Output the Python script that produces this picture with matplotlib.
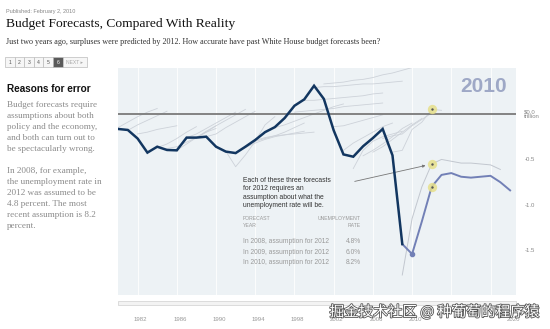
import numpy as np
import matplotlib
matplotlib.use('Agg')
import matplotlib.pyplot as plt
from matplotlib.patches import Rectangle
from matplotlib.transforms import ScaledTranslation
import matplotlib.patheffects as pe

# actual deficit / surplus, trillions (inflation adjusted)
actual_years = list(range(1980, 2010))
actual_values = [-0.165, -0.176, -0.27, -0.425, -0.36, -0.396, -0.40, -0.26, -0.26, -0.25,
                 -0.36, -0.414, -0.43, -0.36, -0.286, -0.20, -0.145, -0.045, 0.09, 0.16,
                 0.31, 0.165, -0.18, -0.445, -0.47, -0.355, -0.265, -0.165, -0.455, -1.43]

# 2010 forecast (highlighted)
fc2010_years = list(range(2009, 2021))
fc2010_values = [-1.43, -1.54, -1.18, -0.80, -0.67, -0.65, -0.69, -0.70, -0.69, -0.68, -0.75, -0.84]

# 2009 forecast
fc2009_years = list(range(2009, 2020))
fc2009_values = [-1.77, -1.15, -0.80, -0.55, -0.50, -0.52, -0.54, -0.54, -0.55, -0.56, -0.61]

# older forecasts, first year + yearly values
old_starts = [1980, 1981, 1982, 1984, 1985, 1986, 1987, 1988, 1989, 1991, 1992, 1993, 1994,
              1996, 1998, 1999, 2000, 2001, 2002, 2003, 2004, 2005, 2006, 2007, 2008]
old_values = [
    [-0.15, -0.09, -0.03, 0.02, 0.06],
    [-0.18, -0.12, -0.07, -0.02, 0.03],
    [-0.22, -0.20, -0.17, -0.15, -0.13],
    [-0.37, -0.33, -0.27, -0.20, -0.14],
    [-0.38, -0.36, -0.31, -0.26, -0.20, -0.16],
    [-0.40, -0.33, -0.26, -0.19, -0.13],
    [-0.26, -0.22, -0.16, -0.10, -0.04, 0.02],
    [-0.26, -0.20, -0.13, -0.07, -0.01, 0.05],
    [-0.25, -0.22, -0.15, -0.09, -0.03, 0.03],
    [-0.41, -0.58, -0.45, -0.30, -0.12, -0.03],
    [-0.43, -0.37, -0.32, -0.28, -0.25, -0.23, -0.21, -0.19],
    [-0.36, -0.30, -0.27, -0.24, -0.20, -0.15, -0.10],
    [-0.29, -0.26, -0.24, -0.23, -0.22, -0.21, -0.20],
    [-0.15, -0.12, -0.08, -0.04, 0.00, 0.04, 0.08, 0.11],
    [0.02, 0.03, 0.04, 0.05, 0.06, 0.08, 0.09, 0.10, 0.11, 0.12],
    [0.15, 0.15, 0.16, 0.17, 0.18, 0.19, 0.20, 0.22, 0.23],
    [0.29, 0.30, 0.30, 0.31, 0.32, 0.33, 0.33, 0.34, 0.35, 0.36],
    [0.33, 0.34, 0.35, 0.37, 0.38, 0.40, 0.43, 0.45, 0.48, 0.51],
    [-0.14, -0.13, -0.10, -0.07, -0.04, -0.01],
    [-0.40, -0.32, -0.26, -0.20, -0.14, -0.10],
    [-0.60, -0.40, -0.30, -0.25, -0.22, -0.19],
    [-0.46, -0.40, -0.33, -0.25, -0.16, -0.10],
    [-0.42, -0.36, -0.28, -0.20, -0.12, -0.05],
    [-0.27, -0.24, -0.22, -0.13, -0.06, 0.01],
    [-0.42, -0.40, -0.17, -0.09, 0.05, 0.04],
]

# 2012 points of the three forecasts (2008, 2009, 2010)
mark_year = 2012
mark_values = [0.05, -0.55, -0.80]

ytick_vals = [0.0, -0.5, -1.0, -1.5]
ytick_labels = ['$0.0\ntrillion', '-0.5', '-1.0', '-1.5']
xtick_years = [1982, 1986, 1990, 1994, 1998, 2002, 2006, 2010, 2020]

table_rows = ['In 2008, assumption for 2012', 'In 2009, assumption for 2012', 'In 2010, assumption for 2012']
unemployment = ['4.8%', '6.0%', '8.2%']

side_text = ['Budget forecasts require', 'assumptions about both', 'policy and the economy,',
             'and both can turn out to', 'be spectacularly wrong.', '',
             'In 2008, for example,', 'the unemployment rate in', '2012 was assumed to be',
             '4.8 percent. The most', 'recent assumption is 8.2', 'percent.']

W, H = 550, 329
fig = plt.figure(figsize=(5.5, 3.29), dpi=100)
fig.patch.set_facecolor('white')

def fx(x):
    return x / W

def fy(y):
    return 1 - y / H

sans = ['Liberation Sans', 'DejaVu Sans']
serif = ['Liberation Serif']

# header
fig.text(fx(6), fy(11), 'Published: February 2, 2010', fontsize=4.0, color='#888888', family=sans, va='center')
fig.text(fx(6), fy(24), 'Budget Forecasts, Compared With Reality', fontsize=9.7, color='#111111',
         family=serif, va='center')
fig.text(fx(6), fy(42), 'Just two years ago, surpluses were predicted by 2012. How accurate have past White House budget forecasts been?',
         fontsize=5.85, color='#333333', family=serif, va='center')

# page buttons
bx = 5
for i, lab in enumerate(['1', '2', '3', '4', '5', '6', 'NEXT \u25b8']):
    w = 9.6 if i < 6 else 24
    dark = lab == '6'
    fig.add_artist(Rectangle((fx(bx), fy(67)), w / W, 10 / H, transform=fig.transFigure,
                             facecolor='#5a5a5a' if dark else '#f6f6f6', edgecolor='#bbbbbb', lw=0.5))
    fig.text(fx(bx + w / 2), fy(62), lab, fontsize=3.6, ha='center', va='center', family=sans,
             color='white' if dark else ('#aaaaaa' if i == 6 else '#555555'))
    bx += w

# side panel
fig.text(fx(7), fy(89), 'Reasons for error', fontsize=7.2, fontweight='bold', color='#111111', family=sans, va='center')
for i, line in enumerate(side_text):
    fig.text(fx(7), fy(105 + 11 * i), line, fontsize=6.6, color='#8a8a8a', family=serif, va='center')

# chart
ax = fig.add_axes([fx(118), fy(295), (516 - 118) / W, (295 - 68) / H])
ax.set_facecolor('#edf2f5')
ax.set_xlim(1980, 2020.6)
ax.set_ylim(-1.99, 0.505)
for yr in range(1982, 2021, 4):
    ax.axvline(yr, color='white', lw=0.8, alpha=0.8, zorder=0)

for start, vals in zip(old_starts, old_values):
    ax.plot(range(start, start + len(vals)), vals, color='#cdd2d9', lw=0.6, zorder=1)
ax.plot(fc2009_years, fc2009_values, color='#c2c7cf', lw=0.7, zorder=1)

ax.axhline(0, color='#7a7a7a', lw=1.3, zorder=2)
ax.plot(actual_years, actual_values, color='#123660', lw=1.8, zorder=4, solid_joinstyle='miter')
ax.plot(fc2010_years, fc2010_values, color='#7280b6', lw=1.4, zorder=3)
ax.plot(fc2010_years[1], fc2010_values[1], 'o', ms=3, color='#7280b6', zorder=3)

ax.scatter([mark_year] * 3, mark_values, s=45, color='#e6e08a', alpha=0.85, zorder=5, lw=0)
ax.scatter([mark_year] * 3, mark_values, s=3, color='#555555', zorder=6, lw=0)

ax.text(0.978, 0.92, '2010', transform=ax.transAxes, ha='right', va='center', fontsize=15,
        fontweight='bold', color='#9ea8c6', family=sans)

# annotation
ax.text(fx(243), fy(177), 'Each of these three forecasts\nfor 2012 requires an\nassumption about what the\nunemployment rate will be.',
        transform=fig.transFigure, fontsize=4.9, color='#333333', family=sans, va='top', linespacing=1.25)
ax.annotate('', xy=(mark_year - 0.35, mark_values[1] - 0.01), xytext=(fx(352), fy(182)),
            textcoords='figure fraction',
            arrowprops=dict(arrowstyle='-|>', color='#777777', lw=0.6, mutation_scale=4))
ax.text(fx(243), fy(222), 'FORECAST\nYEAR', transform=fig.transFigure, fontsize=3.7, color='#999999',
        family=sans, va='center', linespacing=1.3)
ax.text(fx(361), fy(222), 'UNEMPLOYMENT\nRATE', transform=fig.transFigure, fontsize=3.7, color='#999999',
        family=sans, va='center', ha='right', multialignment='right', linespacing=1.3)
for i, (row, rate) in enumerate(zip(table_rows, unemployment)):
    ax.text(fx(243), fy(241.5 + 10.7 * i), row, transform=fig.transFigure, fontsize=4.8, color='#9a9a9a',
            family=sans, va='center')
    ax.text(fx(361), fy(241.5 + 10.7 * i), rate, transform=fig.transFigure, fontsize=4.8, color='#9a9a9a',
            family=sans, va='center', ha='right')

# axes styling
for s in ax.spines.values():
    s.set_visible(False)
ax.yaxis.tick_right()
ax.set_yticks(ytick_vals)
ax.set_yticklabels(ytick_labels, fontsize=4.3, color='#888888', family=sans, linespacing=1.0)
ax.tick_params(axis='y', length=0, pad=6)
ax.set_xticks(xtick_years)
ax.set_xticklabels([str(y) for y in xtick_years], fontsize=4.3, color='#999999', family=sans)
ax.tick_params(axis='x', length=0, pad=15.5)
off = ScaledTranslation(3 / 100, 0, fig.dpi_scale_trans)
for lab in ax.get_xticklabels():
    lab.set_transform(lab.get_transform() + off)

# scroll bar
fig.add_artist(Rectangle((fx(118), fy(305)), (516 - 118) / W, 4 / H, transform=fig.transFigure,
                         facecolor='#f3f3f3', edgecolor='#d0d0d0', lw=0.5))

# watermark
fig.text(fx(540), fy(312), '掘金技术社区 @ 种葡萄的程序猿', fontsize=10.5, color='white', ha='right', va='center',
         family=['Noto Sans CJK SC', 'DejaVu Sans'],
         path_effects=[pe.withStroke(linewidth=1.2, foreground='#555555')])

fig.savefig('out.png', dpi=100)
